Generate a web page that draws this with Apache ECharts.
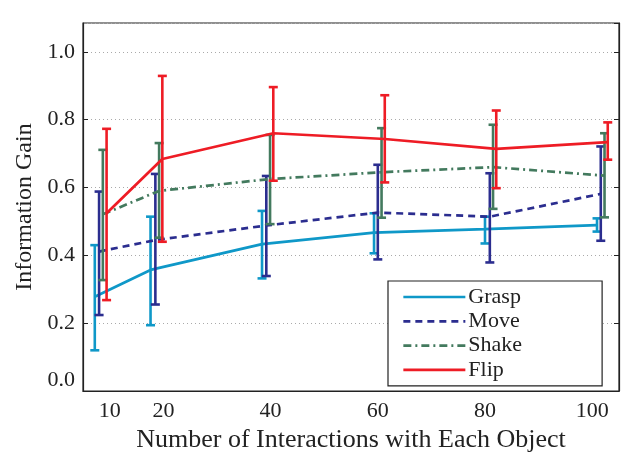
<!DOCTYPE html>
<html>
<head>
<meta charset="utf-8">
<script src="https://cdn.jsdelivr.net/npm/echarts@6/dist/echarts.min.js"></script>
<style>html,body{margin:0;padding:0;background:#fff;}#chart{width:627px;height:458px;}</style>
</head>
<body>
<div id="chart"></div>
<script>
// Tick labels on the x axis
const xTicks = [10, 20, 40, 60, 80, 100];
const yTicks = [0, 0.2, 0.4, 0.6, 0.8, 1.0];

// Plotted x positions (each series is slightly offset, as in the figure)
const graspX = [7.2, 17.6, 38.4, 59.3, 80.0, 100.9];
const moveX  = [8.0, 18.5, 39.2, 60.0, 80.9, 101.6];
const shakeX = [8.7, 19.2, 39.9, 60.7, 81.5, 102.3];
const flipX  = [9.4, 19.8, 40.5, 61.3, 82.1, 102.9];

// Means and error-bar ends
const grasp   = [0.278, 0.357, 0.433, 0.467, 0.477, 0.489];
const graspLo = [0.120, 0.194, 0.332, 0.406, 0.435, 0.470];
const graspHi = [0.430, 0.514, 0.531, 0.524, 0.514, 0.509];

const move   = [0.411, 0.445, 0.488, 0.526, 0.514, 0.581];
const moveLo = [0.224, 0.255, 0.339, 0.388, 0.379, 0.443];
const moveHi = [0.588, 0.640, 0.634, 0.667, 0.642, 0.721];

const shake   = [0.521, 0.590, 0.625, 0.645, 0.660, 0.635];
const shakeLo = [0.327, 0.452, 0.492, 0.511, 0.537, 0.512];
const shakeHi = [0.711, 0.731, 0.755, 0.775, 0.785, 0.760];

const flip   = [0.524, 0.684, 0.760, 0.743, 0.714, 0.734];
const flipLo = [0.268, 0.440, 0.620, 0.615, 0.598, 0.682];
const flipHi = [0.773, 0.929, 0.896, 0.872, 0.827, 0.792];

const seriesDefs = [
  {name: 'Grasp', x: graspX, y: grasp, lo: graspLo, hi: graspHi, color: '#0f98c8', type: 'solid'},
  {name: 'Move',  x: moveX,  y: move,  lo: moveLo,  hi: moveHi,  color: '#2b2d8f', type: [7, 5]},
  {name: 'Shake', x: shakeX, y: shake, lo: shakeLo, hi: shakeHi, color: '#437a5e', type: [8, 4, 2, 4]},
  {name: 'Flip',  x: flipX,  y: flip,  lo: flipLo,  hi: flipHi,  color: '#ee1c25', type: 'solid'}
];

const FONT = '"Liberation Serif", "DejaVu Serif", serif';

const series = [];
seriesDefs.forEach(function (s, i) {
  series.push({
    name: s.name + ' err',
    type: 'custom',
    z: 2 + i * 2,
    silent: true,
    data: s.x.map(function (x, k) { return [x, s.lo[k], s.hi[k]]; }),
    encode: {x: 0, y: [1, 2]},
    renderItem: function (params, api) {
      const x = api.value(0);
      const pHi = api.coord([x, api.value(2)]);
      const pLo = api.coord([x, api.value(1)]);
      const w = 4.5;
      const st = {stroke: s.color, lineWidth: 2.6};
      return {
        type: 'group',
        children: [
          {type: 'line', shape: {x1: pHi[0], y1: pHi[1], x2: pLo[0], y2: pLo[1]}, style: st},
          {type: 'line', shape: {x1: pHi[0] - w, y1: pHi[1], x2: pHi[0] + w, y2: pHi[1]}, style: st},
          {type: 'line', shape: {x1: pLo[0] - w, y1: pLo[1], x2: pLo[0] + w, y2: pLo[1]}, style: st}
        ]
      };
    }
  });
  series.push({
    name: s.name,
    type: 'line',
    z: 3 + i * 2,
    symbol: 'none',
    showSymbol: false,
    data: s.x.map(function (x, k) { return [x, s.y[k]]; }),
    color: s.color,
    lineStyle: {color: s.color, width: 2.7, type: s.type},
    animation: false
  });
});

const chart = echarts.init(document.getElementById('chart'));
chart.setOption({
  animation: false,
  backgroundColor: '#fff',
  grid: {left: 83, right: 8, top: 23, bottom: 67, show: true, borderColor: '#222', borderWidth: 1.2, backgroundColor: 'transparent'},
  legend: {
    data: seriesDefs.map(function (s) { return s.name; }),
    orient: 'vertical',
    left: 388,
    top: 281,
    itemWidth: 62,
    itemHeight: 14,
    itemGap: 2.3,
    padding: [5, 80, 5, 14],
    backgroundColor: '#fff',
    borderColor: '#222',
    borderWidth: 1.2,
    itemStyle: {opacity: 0},
    lineStyle: {width: 2.7},
    textStyle: {fontFamily: FONT, fontSize: 22, color: '#222', padding: [0, 0, 0, -2]},
    selectedMode: false
  },
  xAxis: {
    type: 'value',
    min: 5,
    max: 105,
    name: 'Number of Interactions with Each Object',
    nameLocation: 'middle',
    nameGap: 36,
    nameTextStyle: {fontFamily: FONT, fontSize: 26, color: '#222'},
    axisLine: {show: true, lineStyle: {color: '#222', width: 1.2}},
    axisTick: {show: false},
    splitLine: {show: false},
    axisLabel: {customValues: xTicks, fontFamily: FONT, fontSize: 22, color: '#222', margin: 9}
  },
  yAxis: [{
    type: 'value',
    min: 0,
    max: 1.085,
    interval: 0.2,
    name: 'Information Gain',
    nameLocation: 'middle',
    nameGap: 44,
    nameTextStyle: {fontFamily: FONT, fontSize: 24, color: '#222'},
    axisLine: {show: true, lineStyle: {color: '#222', width: 1.2}},
    axisTick: {show: true, inside: true, length: 5, lineStyle: {color: '#222'}},
    axisLabel: {fontFamily: FONT, fontSize: 22, color: '#222', margin: 8, showMaxLabel: false,
      verticalAlignMinLabel: 'bottom',
      formatter: function (v) { return v.toFixed(1); }},
    splitLine: {show: true, lineStyle: {color: '#aaa', type: [1, 3], width: 1}}
  }, {
    type: 'value',
    position: 'right',
    min: 0,
    max: 1.085,
    interval: 0.2,
    axisLine: {show: true, lineStyle: {color: '#222', width: 1.2}},
    axisTick: {show: true, inside: true, length: 5, lineStyle: {color: '#222'}},
    axisLabel: {show: false},
    splitLine: {show: false}
  }],
  series: series
});
</script>
</body>
</html>
